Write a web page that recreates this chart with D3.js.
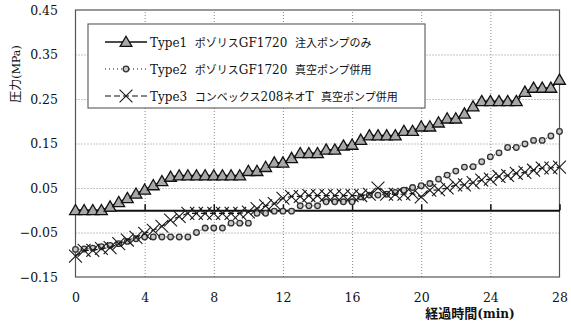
<!DOCTYPE html>
<html>
<head>
<meta charset="utf-8">
<script src="https://cdn.jsdelivr.net/npm/d3@7/dist/d3.min.js"></script>
<style>
    body { margin: 0; background: #fff; }
    svg { display: block; }
</style>
</head>
<body>
<div id="chart_area"></div>
<script>

// time axis (min), one reading every 0.5 min
var times = [0, 0.5, 1, 1.5, 2, 2.5, 3, 3.5, 4, 4.5, 5, 5.5, 6, 6.5, 7, 7.5, 8, 8.5, 9, 9.5,
    10, 10.5, 11, 11.5, 12, 12.5, 13, 13.5, 14, 14.5, 15, 15.5, 16, 16.5, 17, 17.5, 18, 18.5, 19, 19.5,
    20, 20.5, 21, 21.5, 22, 22.5, 23, 23.5, 24, 24.5, 25, 25.5, 26, 26.5, 27, 27.5, 28];

var type1 = [0, 0, 0, 0, 0.008, 0.018, 0.027, 0.037, 0.046, 0.056, 0.065, 0.075, 0.078, 0.078, 0.078, 0.078, 0.078, 0.078, 0.078, 0.078,
    0.088, 0.088, 0.097, 0.107, 0.107, 0.117, 0.128, 0.128, 0.128, 0.136, 0.136, 0.145, 0.147, 0.158, 0.168, 0.168, 0.168, 0.168, 0.178, 0.178,
    0.188, 0.188, 0.197, 0.206, 0.206, 0.217, 0.233, 0.245, 0.245, 0.245, 0.245, 0.245, 0.266, 0.275, 0.275, 0.275, 0.293];

var type2 = [-0.088, -0.087, -0.085, -0.082, -0.079, -0.075, -0.07, -0.064, -0.06, -0.06, -0.06, -0.06, -0.06, -0.06, -0.05, -0.04, -0.04, -0.04, -0.029, -0.029,
    -0.029, -0.007, -0.007, -0.002, -0.002, -0.002, 0.01, 0.01, 0.01, 0.019, 0.019, 0.019, 0.019, 0.03, 0.034, 0.034, 0.036, 0.04, 0.045, 0.051,
    0.055, 0.06, 0.07, 0.079, 0.088, 0.097, 0.098, 0.109, 0.12, 0.129, 0.141, 0.141, 0.149, 0.157, 0.157, 0.167, 0.177];

var type3 = [-0.103, -0.09, -0.09, -0.086, -0.084, -0.075, -0.067, -0.061, -0.052, -0.045, -0.036, -0.022, -0.014, -0.007, -0.007, -0.007, -0.007, -0.007, -0.007, -0.007,
    -0.004, 0.004, 0.01, 0.015, 0.027, 0.031, 0.031, 0.033, 0.033, 0.033, 0.033, 0.033, 0.033, 0.033, 0.036, 0.05, 0.036, 0.036, 0.036, 0.038,
    0.03, 0.045, 0.046, 0.05, 0.057, 0.057, 0.062, 0.068, 0.07, 0.076, 0.078, 0.083, 0.085, 0.09, 0.095, 0.095, 0.097];

var legend_labels = [
    "Type1  ポゾリスGF1720  注入ポンプのみ",
    "Type2  ポゾリスGF1720  真空ポンプ併用",
    "Type3  コンベックス208ネオT  真空ポンプ併用"
];

var x_ticks = [0, 4, 8, 12, 16, 20, 24, 28];
var y_ticks = [-0.15, -0.05, 0.05, 0.15, 0.25, 0.35, 0.45];

var svg_w = 571;
var svg_h = 324;
var latin_font = "'DejaVu Serif', 'Liberation Serif', serif";
var cjk_font = "'Noto Sans CJK JP', sans-serif";

var svg = d3.select("#chart_area")
    .append("svg")
    .attr("width", svg_w)
    .attr("height", svg_h);

var xScale = d3.scaleLinear()
    .domain([0, 28])
    .range([75.5, 559.5]);

var yScale = d3.scaleLinear()
    .domain([-0.15, 0.45])
    .range([277, 10]);

var plot_w = xScale(28) - xScale(0);
var plot_h = yScale(-0.15) - yScale(0.45);

// writes latin and japanese runs with their own font
function mixed_text(sel, str, latin_size, cjk_size) {
    var parts = str.match(/[\u3000-\u30ff\u4e00-\u9fff]+|[^\u3000-\u30ff\u4e00-\u9fff]+/g);
    parts.forEach(function (p) {
        var is_cjk = /[\u3000-\u30ff\u4e00-\u9fff]/.test(p);
        sel.append("tspan")
            .style("font-family", is_cjk ? cjk_font : latin_font)
            .style("font-size", (is_cjk ? cjk_size : latin_size) + "px")
            .text(p);
    });
}

// dotted grid
svg.append("g")
    .attr("class", "grid")
    .attr("transform", "translate(" + xScale(0) + ",0)")
    .call(d3.axisLeft(yScale)
        .tickValues([-0.05, 0.05, 0.15, 0.25, 0.35])
        .tickSize(-plot_w)
        .tickFormat(""));

svg.append("g")
    .attr("class", "grid")
    .attr("transform", "translate(0," + yScale(-0.15) + ")")
    .call(d3.axisBottom(xScale)
        .tickValues([4, 8, 12, 16, 20, 24])
        .tickSize(-plot_h)
        .tickFormat(""));

svg.selectAll(".grid .domain").remove();
svg.selectAll(".grid line")
    .style("stroke", "#8a8a8a")
    .style("stroke-width", 1)
    .style("stroke-dasharray", "1,2");

// plot frame
svg.append("rect")
    .attr("x", xScale(0))
    .attr("y", yScale(0.45))
    .attr("width", plot_w)
    .attr("height", plot_h)
    .style("fill", "none")
    .style("stroke", "#555")
    .style("stroke-width", 1.2);

// zero line with small ticks
var zero_axis = svg.append("g")
    .attr("transform", "translate(0," + yScale(0) + ")")
    .call(d3.axisBottom(xScale)
        .tickValues([4, 8, 12, 16, 20, 24, 28])
        .tickSize(-6)
        .tickSizeOuter(0)
        .tickFormat(""));
zero_axis.select(".domain").style("stroke", "#111").style("stroke-width", 2);
zero_axis.selectAll("line").style("stroke", "#111").style("stroke-width", 1.5);

// tick labels
var y_axis = svg.append("g")
    .attr("transform", "translate(58,0)")
    .call(d3.axisLeft(yScale)
        .tickValues(y_ticks)
        .tickSize(0)
        .tickPadding(0)
        .tickFormat(d3.format(".2f")));
y_axis.select(".domain").remove();
y_axis.selectAll("text")
    .style("font-family", latin_font)
    .style("font-size", "12.5px")
    .style("fill", "#111");

var x_axis = svg.append("g")
    .attr("transform", "translate(0," + yScale(-0.15) + ")")
    .call(d3.axisBottom(xScale)
        .tickValues(x_ticks)
        .tickSize(0)
        .tickPadding(16)
        .tickFormat(d3.format("d")));
x_axis.select(".domain").remove();
x_axis.selectAll("text")
    .style("font-family", latin_font)
    .style("font-size", "12.5px")
    .style("fill", "#111");

// axis titles
var y_title = svg.append("text")
    .attr("transform", "translate(20,74) rotate(-90)")
    .attr("text-anchor", "middle")
    .style("fill", "#111");
mixed_text(y_title, "圧力(MPa)", 11, 12);

var x_title = svg.append("text")
    .attr("x", 470)
    .attr("y", 318)
    .attr("text-anchor", "middle")
    .style("font-weight", "bold")
    .style("fill", "#111");
mixed_text(x_title, "経過時間(min)", 12, 13);

// series
var line = d3.line()
    .x(function (d) { return xScale(d[0]); })
    .y(function (d) { return yScale(d[1]); });

function pairs(values) {
    return times.map(function (t, i) { return [t, values[i]]; });
}

var tri = d3.symbol().type(d3.symbolTriangle).size(60);
var cross = d3.symbol().type(d3.symbolTimes).size(110);

function draw_circle(g, px, py) {
    g.append("circle")
        .attr("cx", px)
        .attr("cy", py)
        .attr("r", 2.8)
        .style("fill", "#c8c8c8")
        .style("stroke", "#333")
        .style("stroke-width", 1.3);
}

function draw_triangle(g, px, py) {
    g.append("path")
        .attr("d", tri)
        .attr("transform", "translate(" + px + "," + (py + 1) + ")")
        .style("fill", "#a8a8a8")
        .style("stroke", "#111")
        .style("stroke-width", 1.3);
}

function draw_cross(g, px, py) {
    g.append("path")
        .attr("d", cross)
        .attr("transform", "translate(" + px + "," + py + ")")
        .style("fill", "none")
        .style("stroke", "#1a1a1a")
        .style("stroke-width", 1.1);
}

var series = [
    {data: pairs(type1), dash: null, width: 1.5, marker: draw_triangle},
    {data: pairs(type2), dash: "1,3", width: 1, marker: draw_circle},
    {data: pairs(type3), dash: "6,3", width: 1.2, marker: draw_cross}
];

series.forEach(function (s) {
    var g = svg.append("g");
    g.append("path")
        .datum(s.data)
        .attr("d", line)
        .style("fill", "none")
        .style("stroke", "#111")
        .style("stroke-width", s.width)
        .style("stroke-dasharray", s.dash);
    s.data.forEach(function (d) {
        s.marker(g, xScale(d[0]), yScale(d[1]));
    });
});

// legend
var legend = svg.append("g").attr("id", "legend");
legend.append("rect")
    .attr("x", 88)
    .attr("y", 24)
    .attr("width", 337)
    .attr("height", 84)
    .style("fill", "#fff")
    .style("stroke", "#666")
    .style("stroke-width", 1.2);

var row_y = [42, 69, 96];
series.forEach(function (s, i) {
    legend.append("line")
        .attr("x1", 105)
        .attr("x2", 147)
        .attr("y1", row_y[i])
        .attr("y2", row_y[i])
        .style("stroke", "#111")
        .style("stroke-width", s.width)
        .style("stroke-dasharray", s.dash);
    s.marker(legend, 126, row_y[i]);

    var t = legend.append("text")
        .attr("x", 150)
        .attr("y", row_y[i] + 4.5)
        .style("white-space", "pre")
        .style("fill", "#111");
    mixed_text(t, legend_labels[i], 12, 11);
});

</script>
</body>
</html>
